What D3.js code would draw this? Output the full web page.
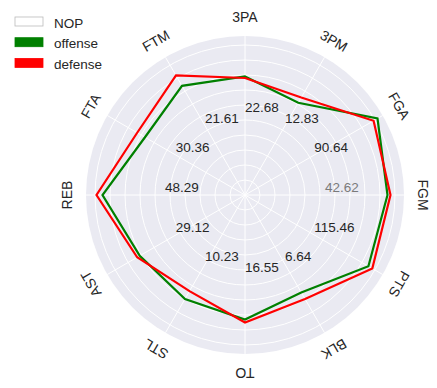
<!DOCTYPE html>
<html>
<head>
<meta charset="utf-8">
<script src="https://cdn.jsdelivr.net/npm/d3@7"></script>
<style>
  body { margin: 0; background: #fff; }
  text { font-family: "Liberation Sans", Arial, sans-serif; fill: #262626; }
</style>
</head>
<body>
<svg id="chart" width="437" height="388"></svg>
<script>
// axes, clockwise from the top
const categories = ['3PA', '3PM', 'FGA', 'FGM', 'PTS', 'BLK', 'TO', 'STL', 'AST', 'REB', 'FTA', 'FTM']
// one scale label per axis
const tickLabels = ['22.68', '12.83', '90.64', '42.62', '115.46', '6.64', '16.55', '10.23', '29.12', '48.29', '30.36', '21.61']
// normalised scores (0 - 1)
const offense = [0.79, 0.71, 1.02, 0.95, 0.95, 0.75, 0.83, 0.80, 0.81, 0.95, 0.77, 0.84]
const defense = [0.78, 0.75, 0.99, 0.97, 0.98, 0.80, 0.85, 0.74, 0.83, 0.99, 0.83, 0.92]
const legendNames = ['NOP', 'offense', 'defense']
const legendColors = ['#ffffff', 'green', 'red']

const svg = d3.select('#chart')
const cx = 245, cy = 195
const outer = 159

const rScale = d3.scaleLinear().domain([0, 1.06]).range([0, outer])
// angle scale: 0 at top, going clockwise
const aScale = d3.scaleLinear().domain([0, categories.length]).range([0, 2 * Math.PI])

const pt = (i, v) => {
    const a = aScale(i)
    return [Math.sin(a) * rScale(v), -Math.cos(a) * rScale(v)]
}

const g = svg.append('g').attr('transform', `translate(${cx},${cy})`)

// background disc
g.append('circle').attr('r', outer).attr('fill', '#EAEAF2')

// rings
g.selectAll('.ring')
    .data(d3.range(1, 11).map(d => d / 10))
    .join('circle')
    .attr('class', 'ring')
    .attr('r', d => rScale(d))
    .attr('fill', 'none')
    .attr('stroke', '#fff')
    .attr('stroke-width', 1)

// spokes
g.selectAll('.spoke')
    .data(categories)
    .join('line')
    .attr('class', 'spoke')
    .attr('x1', 0).attr('y1', 0)
    .attr('x2', (d, i) => pt(i, 1.06)[0])
    .attr('y2', (d, i) => pt(i, 1.06)[1])
    .attr('stroke', '#fff')
    .attr('stroke-width', 1)

// per-axis value labels
g.selectAll('.tick-label')
    .data(tickLabels)
    .join('text')
    .attr('class', 'tick-label')
    .attr('x', (d, i) => pt(i, 0.533)[0])
    .attr('y', (d, i) => pt(i, 0.533)[1] - 3)
    .attr('font-size', '13.5px')
    .style('fill', (d, i) => i === 3 ? '#7a7a7a' : '#262626')
    .text(d => d)

// axis names, rotated along the circle
g.selectAll('.axis-label')
    .data(categories)
    .join('text')
    .attr('class', 'axis-label')
    .attr('text-anchor', 'middle')
    .attr('dominant-baseline', 'central')
    .attr('font-size', '14px')
    .attr('transform', (d, i) => {
        const a = aScale(i)
        const x = Math.sin(a) * 178, y = -Math.cos(a) * 178
        return `translate(${x},${y}) rotate(${a * 180 / Math.PI})`
    })
    .text(d => d)

// series
const line = d3.lineRadial()
    .angle((d, i) => aScale(i))
    .radius(d => rScale(d))
    .curve(d3.curveLinearClosed)

g.selectAll('.series')
    .data([offense, defense])
    .join('path')
    .attr('class', 'series')
    .attr('d', line)
    .attr('fill', 'none')
    .attr('stroke', (d, i) => i === 0 ? 'green' : 'red')
    .attr('stroke-width', 2.2)
    .attr('stroke-linejoin', 'miter')

// legend
const legend = svg.append('g').attr('transform', 'translate(15,17)')
legend.selectAll('rect')
    .data(legendNames)
    .join('rect')
    .attr('x', 0)
    .attr('y', (d, i) => i * 20.7)
    .attr('width', 28)
    .attr('height', 9)
    .attr('fill', (d, i) => legendColors[i])
    .attr('stroke', (d, i) => i === 0 ? '#bbb' : legendColors[i])
    .attr('stroke-width', 0.8)
legend.selectAll('text')
    .data(legendNames)
    .join('text')
    .attr('x', 39)
    .attr('y', (d, i) => i * 20.7 + 10.5)
    .attr('font-size', '13.5px')
    .text(d => d)
</script>
</body>
</html>
